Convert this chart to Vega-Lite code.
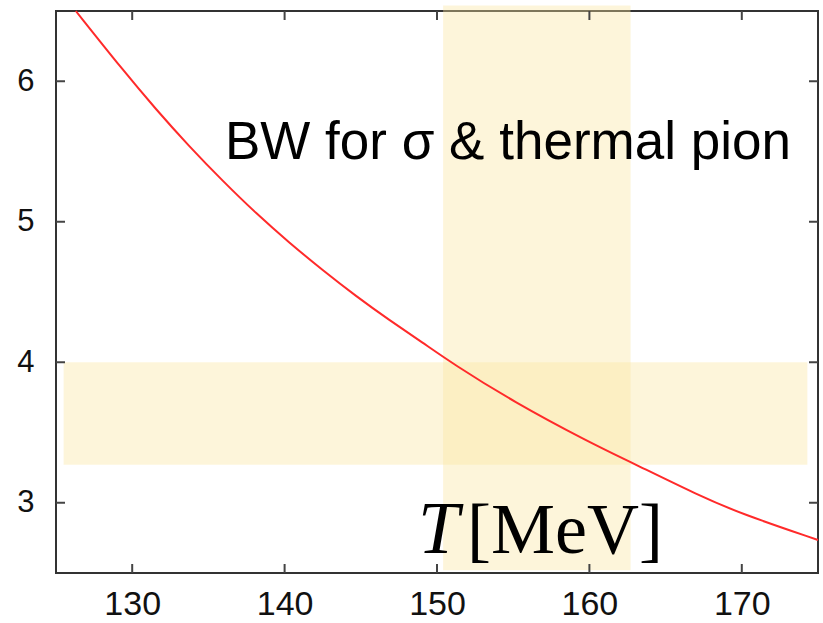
{
  "$schema": "https://vega.github.io/schema/vega-lite/v6.json",
  "autosize": {"type": "none"},
  "padding": {"left": 56, "top": 11, "right": 5, "bottom": 50},
  "width": 762,
  "height": 562,
  "background": "white",
  "config": {
    "view": {"stroke": "#333333", "strokeWidth": 2},
    "axis": {
      "domain": false,
      "grid": false,
      "ticks": false,
      "labelFont": "Liberation Sans",
      "labelColor": "#111111"
    }
  },
  "datasets": {
    "bands": [
      {"x1": 150.4, "x2": 162.7, "y1": 2.52, "y2": 6.54},
      {"x1": 125.5, "x2": 174.3, "y1": 3.27, "y2": 4.0}
    ],
    "curve": [
      {"T": 126.3, "v": 6.5},
      {"T": 129.38, "v": 6.08},
      {"T": 131.56, "v": 5.8},
      {"T": 133.75, "v": 5.535},
      {"T": 135.94, "v": 5.29},
      {"T": 138.12, "v": 5.06},
      {"T": 140.31, "v": 4.85},
      {"T": 142.5, "v": 4.655},
      {"T": 144.69, "v": 4.47},
      {"T": 146.87, "v": 4.3},
      {"T": 149.06, "v": 4.14},
      {"T": 151.03, "v": 3.99},
      {"T": 155.0, "v": 3.72},
      {"T": 160.0, "v": 3.43},
      {"T": 162.7, "v": 3.29},
      {"T": 167.2, "v": 3.05},
      {"T": 170.0, "v": 2.92},
      {"T": 175.0, "v": 2.735}
    ],
    "xticks": [{"T": 130}, {"T": 140}, {"T": 150}, {"T": 160}, {"T": 170}],
    "yticks": [{"v": 3}, {"v": 4}, {"v": 5}, {"v": 6}],
    "labels": [
      {"T": 136.09, "v": 5.444, "text": "BW for σ & thermal pion"}
    ],
    "unitT": [{"T": 148.75, "v": 2.64, "text": "T"}],
    "unitMeV": [{"T": 158.4, "v": 2.64, "text": "[MeV]"}]
  },
  "layer": [
    {
      "data": {"name": "bands"},
      "mark": {"type": "rect", "color": "#fbe49e", "opacity": 0.38},
      "encoding": {
        "x": {"field": "x1", "type": "quantitative",
              "scale": {"domain": [125, 175], "nice": false, "zero": false},
              "axis": {"orient": "bottom", "values": [130, 140, 150, 160, 170], "format": "d", "title": null, "labelFontSize": 34, "labelPadding": 14}},
        "x2": {"field": "x2"},
        "y": {"field": "y1", "type": "quantitative",
              "scale": {"domain": [2.5, 6.5], "nice": false, "zero": false},
              "axis": {"orient": "left", "values": [3, 4, 5, 6], "format": "d", "title": null, "labelFontSize": 31, "labelPadding": 22}},
        "y2": {"field": "y2"}
      }
    },
    {
      "data": {"name": "curve"},
      "mark": {"type": "line", "color": "#ff2a2a", "strokeWidth": 2, "interpolate": "basis"},
      "encoding": {
        "x": {"field": "T", "type": "quantitative"},
        "y": {"field": "v", "type": "quantitative"}
      }
    },
    {
      "data": {"name": "xticks"},
      "mark": {"type": "tick", "orient": "vertical", "size": 9, "thickness": 2, "color": "#444444", "opacity": 1, "yOffset": -4.5},
      "encoding": {
        "x": {"field": "T", "type": "quantitative"},
        "y": {"datum": 2.5, "type": "quantitative"}
      }
    },
    {
      "data": {"name": "xticks"},
      "mark": {"type": "tick", "orient": "vertical", "size": 9, "thickness": 2, "color": "#444444", "opacity": 1, "yOffset": 4.5},
      "encoding": {
        "x": {"field": "T", "type": "quantitative"},
        "y": {"datum": 6.5, "type": "quantitative"}
      }
    },
    {
      "data": {"name": "yticks"},
      "mark": {"type": "tick", "orient": "horizontal", "size": 9, "thickness": 2, "color": "#444444", "opacity": 1, "xOffset": 4.5},
      "encoding": {
        "y": {"field": "v", "type": "quantitative"},
        "x": {"datum": 125, "type": "quantitative"}
      }
    },
    {
      "data": {"name": "yticks"},
      "mark": {"type": "tick", "orient": "horizontal", "size": 9, "thickness": 2, "color": "#444444", "opacity": 1, "xOffset": -4.5},
      "encoding": {
        "y": {"field": "v", "type": "quantitative"},
        "x": {"datum": 175, "type": "quantitative"}
      }
    },
    {
      "data": {"name": "labels"},
      "mark": {"type": "text", "font": "Liberation Sans", "fontSize": 53, "align": "left", "baseline": "alphabetic", "color": "#000000"},
      "encoding": {
        "x": {"field": "T", "type": "quantitative"},
        "y": {"field": "v", "type": "quantitative"},
        "text": {"field": "text"}
      }
    },
    {
      "data": {"name": "unitT"},
      "mark": {"type": "text", "font": "Liberation Serif", "fontStyle": "italic", "fontSize": 74, "align": "left", "baseline": "alphabetic", "color": "#000000"},
      "encoding": {
        "x": {"field": "T", "type": "quantitative"},
        "y": {"field": "v", "type": "quantitative"},
        "text": {"field": "text"}
      }
    },
    {
      "data": {"name": "unitMeV"},
      "mark": {"type": "text", "font": "Liberation Serif", "fontSize": 72, "align": "center", "baseline": "alphabetic", "color": "#000000"},
      "encoding": {
        "x": {"field": "T", "type": "quantitative"},
        "y": {"field": "v", "type": "quantitative"},
        "text": {"field": "text"}
      }
    }
  ]
}
